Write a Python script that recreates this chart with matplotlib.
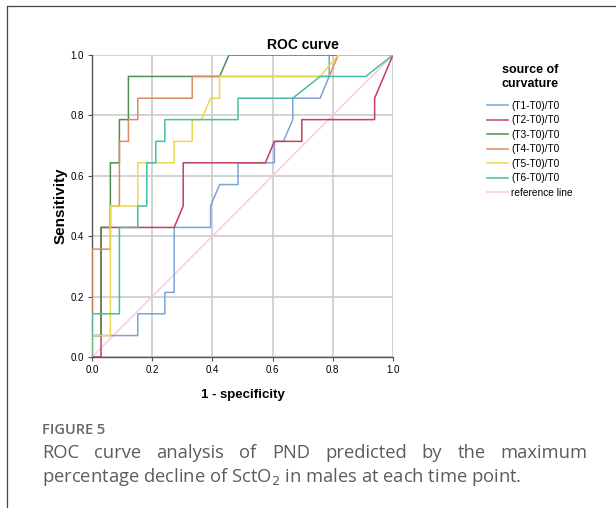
import matplotlib
matplotlib.use('Agg')
import matplotlib.pyplot as plt
from matplotlib.lines import Line2D

# ROC points (1 - specificity, sensitivity)
t1_x = [0, 0, 0.152, 0.152, 0.242, 0.242, 0.273, 0.273, 0.394, 0.394, 0.424, 0.485, 0.485,
        0.606, 0.606, 0.636, 0.667, 0.667, 0.758, 0.788, 0.788, 1.0]
t1_y = [0, 0.071, 0.071, 0.143, 0.143, 0.214, 0.214, 0.429, 0.429, 0.5, 0.571, 0.571, 0.643,
        0.643, 0.714, 0.714, 0.786, 0.857, 0.857, 0.929, 1.0, 1.0]

t2_x = [0, 0.030, 0.030, 0.273, 0.303, 0.303, 0.576, 0.606, 0.697, 0.697, 0.939, 0.939, 1.0]
t2_y = [0, 0, 0.429, 0.429, 0.5, 0.643, 0.643, 0.714, 0.714, 0.786, 0.786, 0.857, 1.0]

t3_x = [0, 0, 0.030, 0.030, 0.061, 0.061, 0.091, 0.091, 0.121, 0.121, 0.424, 0.455, 1.0]
t3_y = [0, 0.071, 0.071, 0.429, 0.429, 0.643, 0.643, 0.786, 0.786, 0.929, 0.929, 1.0, 1.0]

t4_x = [0, 0, 0.061, 0.061, 0.091, 0.091, 0.121, 0.121, 0.152, 0.152, 0.333, 0.333, 0.788, 0.818, 1.0]
t4_y = [0, 0.357, 0.357, 0.5, 0.5, 0.714, 0.714, 0.786, 0.786, 0.857, 0.857, 0.929, 0.929, 1.0, 1.0]

t5_x = [0, 0, 0.061, 0.061, 0.152, 0.152, 0.273, 0.273, 0.333, 0.333, 0.364, 0.394, 0.424,
        0.424, 0.758, 0.818, 1.0]
t5_y = [0, 0.071, 0.071, 0.5, 0.5, 0.643, 0.643, 0.714, 0.714, 0.786, 0.786, 0.857, 0.857,
        0.929, 0.929, 1.0, 1.0]

t6_x = [0, 0, 0.091, 0.091, 0.152, 0.152, 0.182, 0.182, 0.212, 0.212, 0.242, 0.242, 0.485,
        0.485, 0.667, 0.758, 0.909, 1.0]
t6_y = [0, 0.143, 0.143, 0.429, 0.429, 0.5, 0.5, 0.643, 0.643, 0.714, 0.714, 0.786, 0.786,
        0.857, 0.857, 0.929, 0.929, 1.0]

labels = ['(T1-T0)/T0', '(T2-T0)/T0', '(T3-T0)/T0', '(T4-T0)/T0', '(T5-T0)/T0', '(T6-T0)/T0']
colors = ['#7ba3d8', '#c43d62', '#4e8f4e', '#dc8c62', '#e9d94f', '#45bfa8']
ref_color = '#f6c9d8'

ticks = [0.0, 0.2, 0.4, 0.6, 0.8, 1.0]

caption_head = 'FIGURE 5'
caption_1 = 'ROC curve analysis of PND predicted by the maximum'
caption_2 = 'percentage decline of SctO$_2$ in males at each time point.'

plt.rcParams['font.family'] = ['Liberation Sans', 'DejaVu Sans']

W, H = 616, 508
fig = plt.figure(figsize=(W / 100, H / 100), dpi=100)
ax = fig.add_axes([92 / W, 1 - 357 / H, 301 / W, 302 / H])

# diagonal reference line
ax.plot([0, 1], [0, 1], color=ref_color, lw=1.0, zorder=1)

curves = [(t1_x, t1_y), (t2_x, t2_y), (t3_x, t3_y), (t4_x, t4_y), (t5_x, t5_y), (t6_x, t6_y)]
for (xs, ys), c in zip(curves, colors):
    ax.plot(xs, ys, color=c, lw=1.1, zorder=3)

ax.set_xlim(0, 1)
ax.set_ylim(0, 1)
ax.set_xticks(ticks)
ax.set_yticks(ticks)
ax.set_xticklabels([f'{t:.1f}' for t in ticks], fontsize=7)
ax.set_yticklabels([f'{t:.1f}' for t in ticks], fontsize=7)
ax.tick_params(length=3, width=0.8, color='#555555', pad=3)
ax.grid(True, color='#cccccc', lw=1.2, zorder=0)
ax.set_axisbelow(True)
for s in ['top', 'right']:
    ax.spines[s].set_visible(False)
for s in ['left', 'bottom']:
    ax.spines[s].set_color('#555555')
    ax.spines[s].set_linewidth(1.0)
ax.set_xlabel('1 - specificity', fontsize=9.5, fontweight='bold', labelpad=10)
ax.set_ylabel('Sensitivity', fontsize=11, fontweight='bold', labelpad=2)

fig.text(303 / W, 1 - 45 / H, 'ROC curve', fontsize=10, fontweight='bold',
         ha='center', va='center')

# legend
handles = [Line2D([], [], color=c, lw=1.1) for c in colors]
handles.append(Line2D([], [], color=ref_color, lw=1.1))
leg = fig.legend(handles, labels + ['reference line'], loc='upper left',
                 bbox_to_anchor=(478 / W, 1 - 55 / H), frameon=False,
                 title='source of\ncurvature', fontsize=7.3, handlelength=2.1,
                 handletextpad=0.3, labelspacing=0.44,
                 title_fontproperties={'weight': 'bold', 'size': 9})
leg.get_title().set_multialignment('center')
leg._legend_box.sep = 8

# frame lines of the figure panel
fig.add_artist(Line2D([7 / W, 7 / W], [0, 1 - 6 / H], color='#444444', lw=0.9))
fig.add_artist(Line2D([7 / W, 1], [1 - 6 / H, 1 - 6 / H], color='#444444', lw=0.9))

# caption
cap_font = ['Open Sans', 'DejaVu Sans']
cap_size = 13.2
fig.text(42 / W, 1 - 430 / H, caption_head, fontsize=10.5, color='#666666',
         family=cap_font, fontweight='semibold', va='center')

fig.canvas.draw()
r = fig.canvas.get_renderer()
words = caption_1.split()
widths = []
for w in words:
    t = fig.text(0, 0, w, fontsize=cap_size, family=cap_font)
    widths.append(t.get_window_extent(r).width)
    t.remove()
gap = (588 - 42 - sum(widths)) / (len(words) - 1)
x = 42
for w, wd in zip(words, widths):
    fig.text(x / W, 1 - 453 / H, w, fontsize=cap_size, color='#5c5c5c', family=cap_font,
             va='center')
    x += wd + gap
fig.text(42 / W, 1 - 477 / H, caption_2, fontsize=cap_size, color='#5c5c5c', family=cap_font,
         va='center')

fig.savefig('out.png', dpi=100)
